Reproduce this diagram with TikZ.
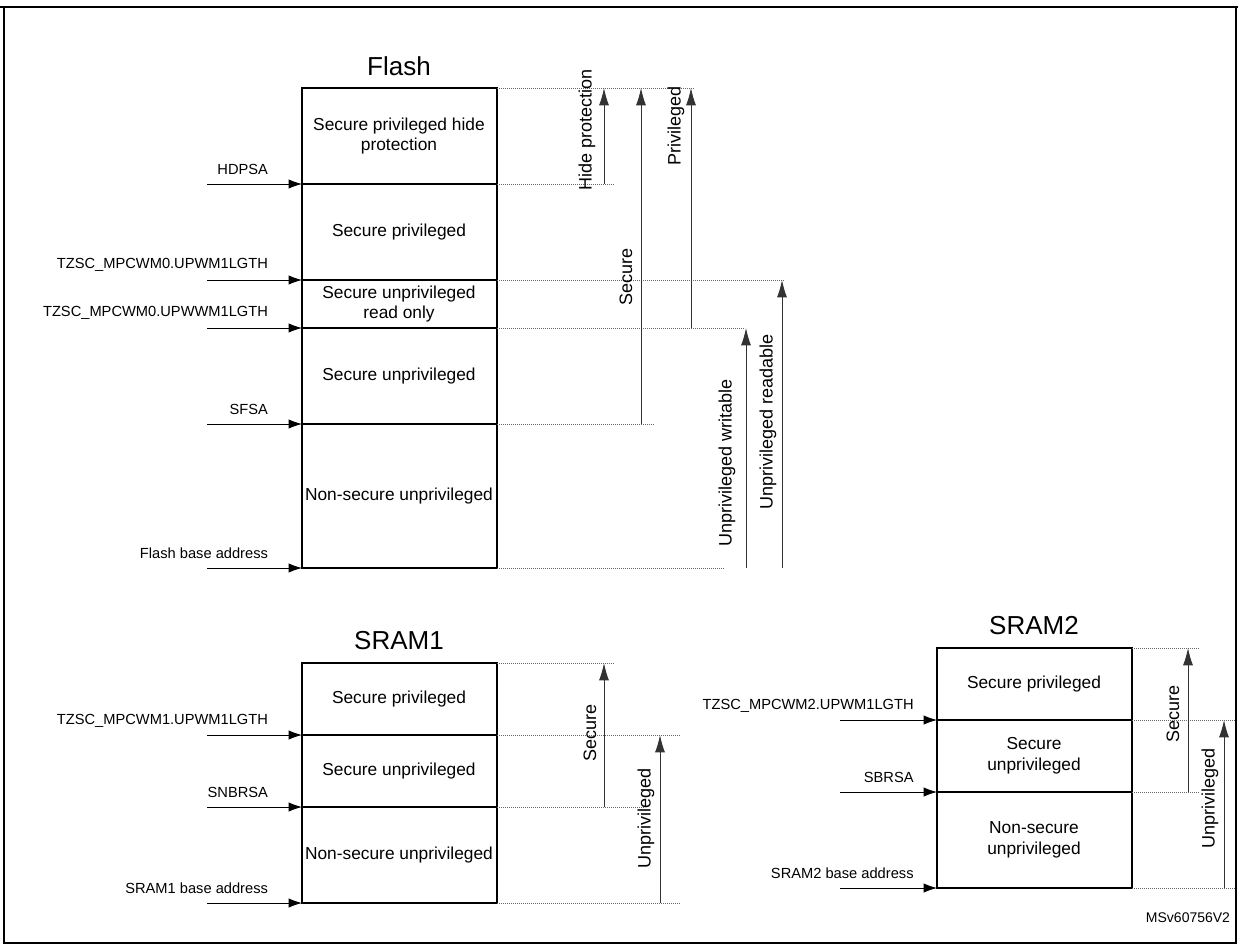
\documentclass[tikz,border=0pt]{standalone}
\usepackage{fontspec}
\setmainfont{Liberation Sans}
\usetikzlibrary{arrows.meta}
\begin{document}
\begin{tikzpicture}[x=0.75pt,y=-0.75pt,
  box/.style={line width=1.1pt},
  lbl/.style={font=\fontsize{13}{15.5}\selectfont,align=center},
  sm/.style={font=\fontsize{11}{13}\selectfont,anchor=east},
  ttl/.style={font=\fontsize{19.5}{22}\selectfont},
  rot/.style={font=\fontsize{13.5}{16}\selectfont,rotate=90},
  ptr/.style={-{Latex[length=10pt,width=7pt]},line width=0.6pt},
  up/.style={-{Latex[length=13pt,width=7.5pt]},line width=0.7pt,draw=black!80},
  dot/.style={densely dotted,line width=0.5pt,draw=black!60}]
\useasboundingbox (0,0) rectangle (1238,945);
\draw[line width=1.8pt] (0,7) -- (1238,7);
\draw[line width=0.8pt] (4,7) -- (4,943) -- (1236,943) -- (1236,7);
% Flash
\node[ttl] (tf) at (399,66) {Flash};
\foreach \n/\y in {a/88,b/184,c/280,d/328,e/424,f/568}{\coordinate (F\n) at (302,\y); \coordinate (G\n) at (497,\y);}
\draw[box] (Fa) rectangle (Gf);
\foreach \n in {b,c,d,e}{\draw[box] (F\n) -- (G\n);}
\node[lbl] at (399,136) {Secure privileged hide\\protection};
\node[lbl] at (399,232) {Secure privileged};
\node[lbl,align=center] at (399,304) {Secure unprivileged\\read only};
\node[lbl] at (399,376) {Secure unprivileged};
\node[lbl] at (399,496) {Non-secure unprivileged};
\foreach \n/\t in {b/HDPSA,c/TZSC\_MPCWM0.UPWM1LGTH,d/TZSC\_MPCWM0.UPWWM1LGTH,e/SFSA,f/Flash base address}{
  \coordinate (L\n) at (207,0|-F\n);
  \draw[ptr] (L\n) -- (F\n);
  \node[sm] at ([yshift=11pt]F\n.center) [xshift=-22pt] {\t};}
\foreach \n/\x in {a/695,b/615,c/785,d/745,e/655,f/725}{\coordinate (D\n) at (\x,0|-F\n); \draw[dot] (G\n) -- (D\n);}
\coordinate (h1) at (604,184); \coordinate (h2) at (604,88);
\draw[up] (h1) -- (h2); \node[rot] at (587,130) {Hide protection};
\coordinate (s1) at (641,424); \coordinate (s2) at (641,88);
\draw[up] (s1) -- (s2); \node[rot] at (626,277) {Secure};
\coordinate (p1) at (691,328); \coordinate (p2) at (691,88);
\draw[up] (p1) -- (p2); \node[rot] at (676,126) {Privileged};
\coordinate (w1) at (746,568); \coordinate (w2) at (746,328);
\draw[up] (w1) -- (w2); \node[rot] at (727,463) {Unprivileged writable};
\coordinate (r1) at (782,568); \coordinate (r2) at (782,280);
\draw[up] (r1) -- (r2); \node[rot] at (768,422) {Unprivileged readable};
% SRAM1
\node[ttl] (t1) at (399,641) {SRAM1};
\foreach \n/\y in {a/663,b/735,c/807,d/903}{\coordinate (A\n) at (302,\y); \coordinate (B\n) at (497,\y);}
\draw[box] (Aa) rectangle (Bd);
\foreach \n in {b,c}{\draw[box] (A\n) -- (B\n);}
\node[lbl] at (399,699) {Secure privileged};
\node[lbl] at (399,771) {Secure unprivileged};
\node[lbl] at (399,855) {Non-secure unprivileged};
\foreach \n/\t in {b/TZSC\_MPCWM1.UPWM1LGTH,c/SNBRSA,d/SRAM1 base address}{
  \coordinate (M\n) at (207,0|-A\n);
  \draw[ptr] (M\n) -- (A\n);
  \node[sm] at ([yshift=11pt]A\n.center) [xshift=-22pt] {\t};}
\foreach \n/\x in {a/615,b/680,c/645,d/680}{\coordinate (E\n) at (\x,0|-A\n); \draw[dot] (B\n) -- (E\n);}
\coordinate (u1) at (604,807); \coordinate (u2) at (604,663);
\draw[up] (u1) -- (u2); \node[rot] at (590,733) {Secure};
\coordinate (v1) at (660,903); \coordinate (v2) at (660,735);
\draw[up] (v1) -- (v2); \node[rot] at (646,818) {Unprivileged};
% SRAM2
\node[ttl] (t2) at (1034,626) {SRAM2};
\foreach \n/\y in {a/648,b/720,c/792,d/888}{\coordinate (P\n) at (937,\y); \coordinate (Q\n) at (1132,\y);}
\draw[box] (Pa) rectangle (Qd);
\foreach \n in {b,c}{\draw[box] (P\n) -- (Q\n);}
\node[lbl] at (1034,684) {Secure privileged};
\node[lbl] at (1034,756) {Secure\\unprivileged};
\node[lbl] at (1034,840) {Non-secure\\unprivileged};
\foreach \n/\t in {b/TZSC\_MPCWM2.UPWM1LGTH,c/SBRSA,d/SRAM2 base address}{
  \coordinate (N\n) at (840,0|-P\n);
  \draw[ptr] (N\n) -- (P\n);
  \node[sm] at ([yshift=11pt]P\n.center) [xshift=-14pt] {\t};}
\foreach \n/\x in {a/1200,b/1235,c/1200,d/1235}{\coordinate (H\n) at (\x,0|-P\n); \draw[dot] (Q\n) -- (H\n);}
\coordinate (x1) at (1188,792); \coordinate (x2) at (1188,648);
\draw[up] (x1) -- (x2); \node[rot] at (1173,714) {Secure};
\coordinate (y1) at (1224,888); \coordinate (y2) at (1224,720);
\draw[up] (y1) -- (y2); \node[rot] at (1210,798) {Unprivileged};
\node[font=\fontsize{10.5}{12}\selectfont] (ms) at (1188,918) {MSv60756V2};
\end{tikzpicture}
\end{document}
